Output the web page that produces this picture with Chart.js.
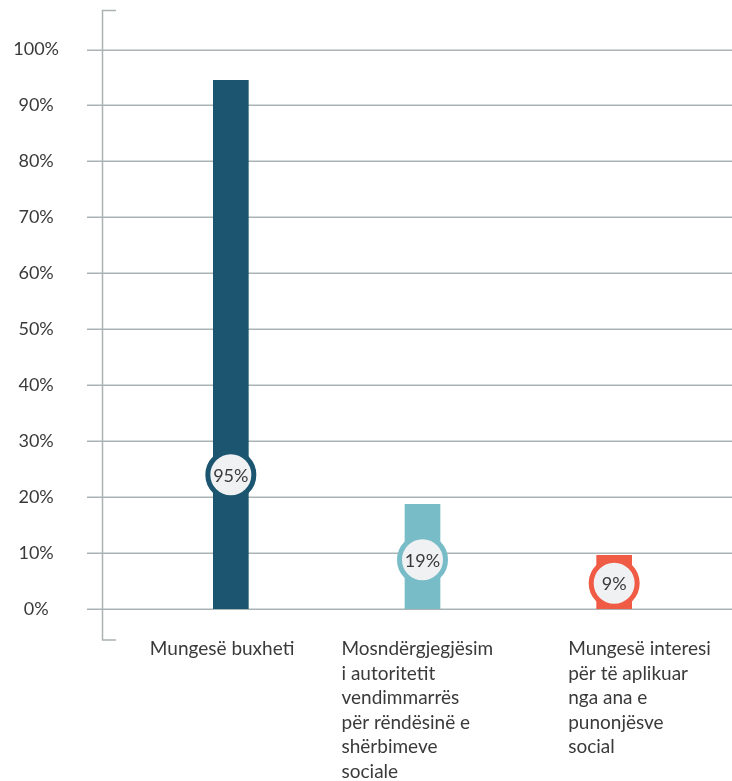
<!DOCTYPE html>
<html>
<head>
<meta charset="utf-8">
<script src="https://cdn.jsdelivr.net/npm/chart.js@4/dist/chart.umd.min.js"></script>
<style>
  html,body{margin:0;padding:0;background:#fff;}
  #wrap{width:732px;height:781px;position:relative;}
</style>
</head>
<body>
<div id="wrap"><canvas id="c" width="732" height="781"></canvas></div>
<script>
// ---- data ----
const categories = [
  ["Mungesë buxheti"],
  ["Mosndërgjegjësim", "i autoritetit", "vendimmarrës", "për rëndësinë e", "shërbimeve", "sociale"],
  ["Mungesë interesi", "për të aplikuar", "nga ana e", "punonjësve", "social"]
];
const barValues = [94.5, 18.7, 9.6];
const valueLabels = ["95%", "19%", "9%"];
const markerValues = [24, 8.8, 4.6];
const yTickValues = [0, 10, 20, 30, 40, 50, 60, 70, 80, 90, 100];

// ---- style ----
const barColors = ["#1b5570", "#78bcc7", "#f05b45"];
const gridColor = "#aab3b3";
const textColor = "#3a3a3a";
const FONT = "Lato, 'Open Sans', sans-serif";
const labelOffsets = [-81, -81, -46];

const decor = {
  id: "decor",
  beforeDatasetsDraw(chart) {
    const ctx = chart.ctx, y = chart.scales.y, a = chart.chartArea;
    ctx.save();
    ctx.strokeStyle = gridColor;
    ctx.lineWidth = 1.5;
    yTickValues.forEach(v => {
      const py = Math.round(y.getPixelForValue(v)) + 0.25;
      ctx.beginPath(); ctx.moveTo(87, py); ctx.lineTo(732, py); ctx.stroke();
    });
    // bracket axis
    const top = a.top - 39, bot = a.bottom + 31;
    ctx.beginPath();
    ctx.moveTo(116, top); ctx.lineTo(102.5, top); ctx.lineTo(102.5, bot); ctx.lineTo(116, bot);
    ctx.stroke();
    ctx.restore();
  },
  afterDatasetsDraw(chart) {
    const ctx = chart.ctx, x = chart.scales.x, a = chart.chartArea;
    const meta = chart.getDatasetMeta(1);
    ctx.save();
    ctx.fillStyle = textColor;
    ctx.font = "18px " + FONT;
    ctx.textAlign = "center";
    ctx.textBaseline = "middle";
    meta.data.forEach((pt, i) => {
      ctx.fillText(valueLabels[i], pt.x, pt.y + 1);
    });
    ctx.font = "19px " + FONT;
    ctx.textAlign = "left";
    categories.forEach((lines, i) => {
      const cx = x.getPixelForValue(i) + labelOffsets[i];
      lines.forEach((ln, j) => {
        ctx.fillText(ln, cx, a.bottom + 40 + j * 24.5);
      });
    });
    ctx.restore();
  }
};

new Chart(document.getElementById("c"), {
  data: {
    labels: categories.map(c => c.join(" ")),
    datasets: [
      {
        type: "bar",
        data: barValues,
        backgroundColor: barColors,
        barThickness: 35,
        order: 2
      },
      {
        type: "line",
        data: markerValues,
        showLine: false,
        clip: false,
        pointRadius: 23,
        pointHoverRadius: 23,
        pointBorderWidth: 5,
        pointHoverBorderWidth: 5,
        pointBackgroundColor: "#f0f1f3",
        pointBorderColor: barColors,
        order: 1
      }
    ]
  },
  options: {
    responsive: false,
    animation: false,
    events: [],
    layout: { autoPadding: false, padding: { top: 49.5, bottom: 172, left: 0, right: 22 } },
    plugins: { legend: { display: false }, tooltip: { enabled: false } },
    scales: {
      x: { display: false, offset: true },
      y: {
        min: 0, max: 100,
        afterFit(s) { s.width = 135; s.paddingTop = 0; s.paddingBottom = 0; },
        afterBuildTicks(s) { s.ticks = yTickValues.map(v => ({ value: v })); },
        grid: { display: false, drawTicks: false },
        border: { display: false },
        ticks: {
          padding: 76,
          crossAlign: "center",
          color: textColor,
          font: { family: FONT, size: 18 },
          callback: v => v + "%"
        }
      }
    }
  },
  plugins: [decor]
});
</script>
</body>
</html>
